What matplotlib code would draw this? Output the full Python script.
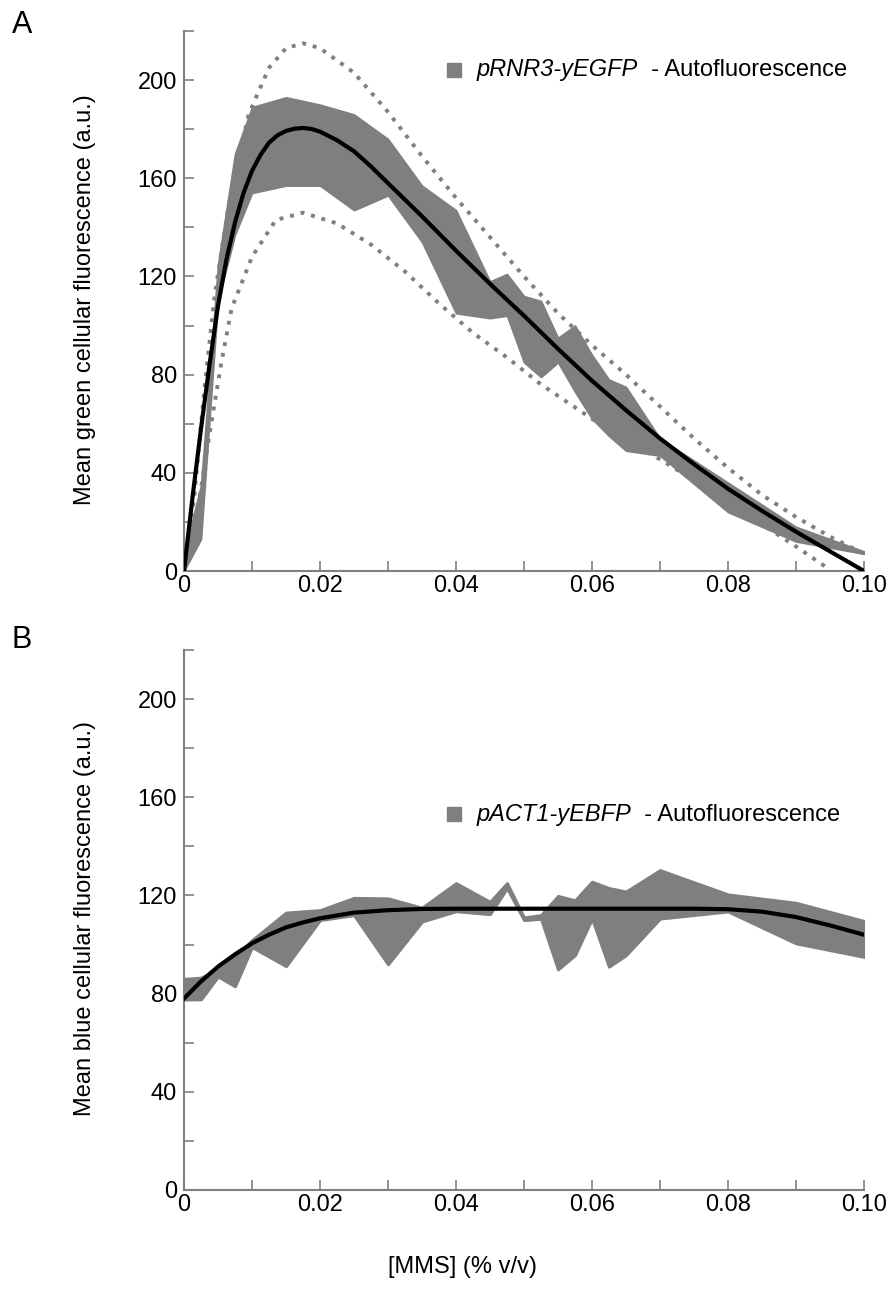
import matplotlib
matplotlib.use("Agg")
import matplotlib.pyplot as plt
from matplotlib.ticker import MultipleLocator, FixedLocator

plt.rcParams['font.family'] = ['Liberation Sans', 'DejaVu Sans']

# ---------------- Panel A data ----------------
a_band_x = [0, 0.0025, 0.005, 0.0075, 0.01, 0.015, 0.02, 0.025, 0.03, 0.035, 0.04, 0.045,
            0.0475, 0.05, 0.0525, 0.055, 0.0575, 0.06, 0.0625, 0.065, 0.07, 0.08, 0.09, 0.10]
a_band_hi = [7, 35, 125, 170, 189, 193, 190, 186, 176, 157, 147, 118,
             121, 112, 110, 95, 100, 88, 78, 75, 54, 36, 18, 8]
a_band_lo = [0, 13, 110, 137, 154, 157, 157, 147, 153, 134, 105, 103,
             104, 85, 79, 85, 73, 62, 55, 49, 47, 24, 12, 7]

a_fit_x = [0, 0.00125, 0.0025, 0.00375, 0.005, 0.00625, 0.0075, 0.00875, 0.01, 0.01125, 0.0125,
           0.01375, 0.015, 0.01625, 0.0175, 0.01875, 0.02, 0.0225, 0.025, 0.0275, 0.03,
           0.035, 0.04, 0.045, 0.05, 0.055, 0.06, 0.065, 0.07, 0.075, 0.08, 0.085, 0.09, 0.095, 0.10]
a_fit_y = [0, 30, 58, 84, 108, 127, 142, 154, 163, 169.5, 174.5,
           177.5, 179.3, 180.2, 180.5, 180.1, 179, 175.5, 171, 164.8, 158,
           144.5, 130.5, 117, 104, 90.5, 77.5, 65.5, 54, 43.5, 33.5, 24.5, 16, 8, 0]

a_hi_x = [0, 0.0015, 0.003, 0.0045, 0.0065, 0.0095, 0.0125, 0.015, 0.0175, 0.02, 0.025, 0.03,
          0.035, 0.04, 0.045, 0.05, 0.055, 0.06, 0.065, 0.07, 0.075, 0.08, 0.085, 0.09, 0.095, 0.10]
a_hi_y = [0, 30, 74, 112, 148, 186, 205, 213, 215, 213, 203, 187,
          169, 152, 136, 120, 105, 92, 80, 67, 54, 42, 31, 22, 14, 7]

a_lo_x = [0, 0.002, 0.004, 0.0055, 0.007, 0.01, 0.0135, 0.0175, 0.0225, 0.0275, 0.0325, 0.0375,
          0.0425, 0.0475, 0.0525, 0.06, 0.065, 0.07, 0.075, 0.08, 0.085, 0.09, 0.095]
a_lo_y = [0, 25, 60, 85, 107, 128, 143, 146, 141.6, 133, 122, 109,
          97, 87, 76, 62, 53.5, 45.5, 37, 28, 19, 10, 0.5]

# ---------------- Panel B data ----------------
b_band_x = [0, 0.0025, 0.005, 0.0075, 0.01, 0.015, 0.02, 0.025, 0.03, 0.035, 0.04, 0.045,
            0.0475, 0.05, 0.0525, 0.055, 0.0575, 0.06, 0.0625, 0.065, 0.07, 0.08, 0.09, 0.10]
b_band_hi = [86, 86.5, 90, 95, 101.8, 113, 114, 119, 118.8, 115, 125, 117.4,
             125, 111, 112, 119.8, 118, 125.6, 123, 121.6, 130.3, 120.4, 117, 109.6]
b_band_lo = [77.6, 77.7, 87, 83, 99, 91.2, 110, 112, 92, 109.4, 113.6, 112.4,
             123, 110, 110.5, 89.9, 95.7, 110.6, 91, 95.7, 110.6, 113.5, 100.5, 95]

b_fit_x = [0, 0.0025, 0.005, 0.0075, 0.01, 0.0125, 0.015, 0.0175, 0.02, 0.025, 0.03, 0.035,
           0.04, 0.05, 0.06, 0.07, 0.075, 0.08, 0.085, 0.09, 0.095, 0.10]
b_fit_y = [78, 85, 91, 96, 100.5, 104, 107, 109, 110.7, 113, 114, 114.5,
           114.6, 114.6, 114.6, 114.6, 114.6, 114.4, 113.4, 111.2, 107.8, 104]

x_ticks = [0, 0.02, 0.04, 0.06, 0.08, 0.10]
x_ticklabels = ["0", "0.02", "0.04", "0.06", "0.08", "0.10"]
y_ticks = [0, 40, 80, 120, 160, 200]
y_ticklabels = ["0", "40", "80", "120", "160", "200"]

legend_a = ("pRNR3-yEGFP", "  - Autofluorescence")
legend_b = ("pACT1-yEBFP", "  - Autofluorescence")
ylabel_a = "Mean green cellular fluorescence (a.u.)"
ylabel_b = "Mean blue cellular fluorescence (a.u.)"
xlabel = "[MMS] (% v/v)"

GRAY = '#7f7f7f'
FS = 17

W, H = 890, 1307
fig = plt.figure(figsize=(W / 100, H / 100), dpi=100)


def make_ax(bottom_px, top_px):
    left, right = 184, 864
    ax = fig.add_axes([left / W, 1 - bottom_px / H, (right - left) / W, (bottom_px - top_px) / H])
    ax.set_xlim(0, 0.10)
    ax.set_ylim(0, 220)
    for s in ('top', 'right'):
        ax.spines[s].set_visible(False)
    for s in ('left', 'bottom'):
        ax.spines[s].set_color(GRAY)
        ax.spines[s].set_linewidth(1.5)
    ax.xaxis.set_major_locator(FixedLocator(x_ticks))
    ax.set_xticklabels(x_ticklabels)
    ax.xaxis.set_minor_locator(MultipleLocator(0.01))
    ax.yaxis.set_major_locator(FixedLocator(y_ticks))
    ax.set_yticklabels(y_ticklabels)
    ax.yaxis.set_minor_locator(MultipleLocator(20))
    ax.tick_params(which='both', direction='in', length=7, width=1.2, color=GRAY,
                   labelsize=FS, pad=3)
    ax.tick_params(axis='y', which='both', pad=5)
    for lab in ax.get_xticklabels() + ax.get_yticklabels():
        lab.set_color('black')
    return ax


def legend(ax, yfrac, parts):
    ax.plot([0.3965], [yfrac], marker='s', markersize=9.5, color=GRAY, linestyle='none',
            transform=ax.transAxes, clip_on=False)
    t1 = ax.text(0.430, yfrac, parts[0], transform=ax.transAxes, fontsize=FS,
                 style='italic', va='center', ha='left')
    ax.annotate(parts[1], xy=(1, 0), xycoords=t1, va='bottom', ha='left', fontsize=FS)


DOT = (0, (1, 1.8))

# Panel A
axA = make_ax(571, 31)
axA.fill_between(a_band_x, a_band_lo, a_band_hi, facecolor=GRAY, edgecolor=GRAY, linewidth=1.2, zorder=2)
axA.plot(a_hi_x, a_hi_y, color=GRAY, linewidth=2.8, linestyle=DOT, zorder=3)
axA.plot(a_lo_x, a_lo_y, color=GRAY, linewidth=2.8, linestyle=DOT, zorder=3)
axA.plot(a_fit_x, a_fit_y, color='black', linewidth=3, zorder=4, solid_joinstyle='round')
legend(axA, 0.928, legend_a)

# Panel B
axB = make_ax(1190, 650)
axB.fill_between(b_band_x, b_band_lo, b_band_hi, facecolor=GRAY, edgecolor=GRAY, linewidth=2.2, zorder=2)
axB.plot(b_fit_x, b_fit_y, color='black', linewidth=3, zorder=4, solid_joinstyle='round')
legend(axB, 0.696, legend_b)

fig.text(22 / W, 1 - 25 / H, "A", fontsize=22, ha='center', va='center')
fig.text(22 / W, 1 - 640 / H, "B", fontsize=22, ha='center', va='center')
fig.text(85 / W, 1 - 300 / H, ylabel_a, fontsize=FS, rotation=90, ha='center', va='center')
fig.text(85 / W, 1 - 918 / H, ylabel_b, fontsize=FS, rotation=90, ha='center', va='center')
fig.text(462 / W, 1 - 1267 / H, xlabel, fontsize=FS, ha='center', va='center')

fig.savefig("out.png", dpi=100)
